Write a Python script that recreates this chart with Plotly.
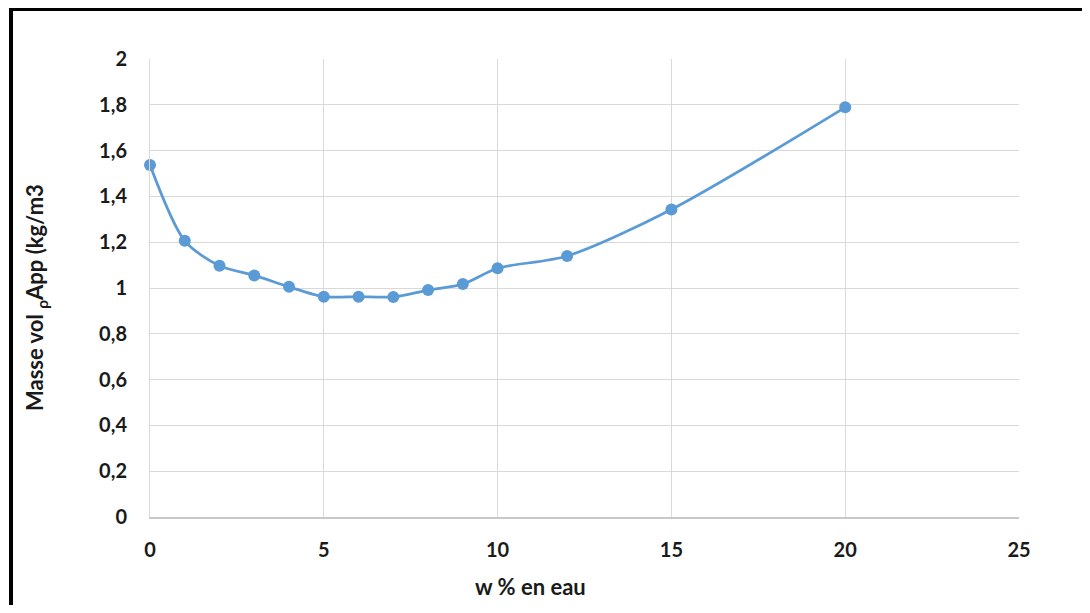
import plotly.graph_objects as go

w_pct = [0, 1, 2, 3, 4, 5, 6, 7, 8, 9, 10, 12, 15, 20]
masse_vol = [1.537, 1.206, 1.097, 1.055, 1.005, 0.962, 0.962, 0.961, 0.991, 1.017, 1.086, 1.14, 1.343, 1.789]
x_ticks = [0, 5, 10, 15, 20, 25]
y_ticks = [0, 0.2, 0.4, 0.6, 0.8, 1, 1.2, 1.4, 1.6, 1.8, 2]

# page has an 8px body margin; figure coords = page coords - 8
OFF = 8
W, H = 1074, 597
PL, PR, PT, PB = 150 - OFF, 1019 - OFF, 59 - OFF, 517 - OFF
pw, ph = PR - PL, PB - PT

fig = go.Figure()
fig.add_trace(go.Scatter(
    x=w_pct, y=masse_vol, mode="lines+markers",
    line=dict(color="#5b9bd5", width=2.75, shape="spline", smoothing=0.8),
    marker=dict(color="#5b9bd5", size=12),
    showlegend=False, cliponaxis=False,
))

tfont = dict(family="Lato", size=20, color="#1a1a1a", weight="bold")

fig.update_layout(
    width=W, height=H,
    margin=dict(l=PL, r=W - PR, t=PT, b=H - PB),
    paper_bgcolor="white", plot_bgcolor="white",
    separators=", ",
    xaxis=dict(range=[0, 25], tickvals=x_ticks, showgrid=True, gridcolor="#d9d9d9", gridwidth=1,
               zeroline=False, showline=True, linecolor="#c8c8c8", linewidth=1.5,
               ticks="", ticklabelstandoff=14, tickfont=tfont),
    yaxis=dict(range=[0, 2], tickvals=y_ticks, showgrid=True, gridcolor="#d9d9d9", gridwidth=1,
               zeroline=False, showline=True, linecolor="#d9d9d9", linewidth=1,
               ticks="", ticklabelstandoff=18, tickfont=tfont),
)

fig.add_annotation(text="<b>w % en eau</b>", xref="paper", yref="paper",
                   x=(530 - OFF - PL) / pw, y=(PB - (586 - OFF)) / ph, showarrow=False,
                   font=dict(family="Lato", size=22, color="#1a1a1a"), xanchor="center", yanchor="middle")
fig.add_annotation(text="<b>Masse vol <sub>ρ</sub>App (kg/m3</b>", xref="paper", yref="paper",
                   x=(36 - OFF - PL) / pw, y=(PB - (297 - OFF)) / ph, showarrow=False, textangle=-90,
                   font=dict(family="Lato", size=22, color="#1a1a1a"), xanchor="center", yanchor="middle")

# black frame around the chart
fig.add_shape(type="rect", xref="paper", yref="paper",
              x0=(11 - OFF - PL) / pw, x1=(1084 - OFF - PL) / pw,
              y0=(PB - (640 - OFF)) / ph, y1=(PB - (9 - OFF)) / ph,
              line=dict(color="black", width=4), fillcolor="rgba(0,0,0,0)", layer="above")

fig.write_html("out.html")
